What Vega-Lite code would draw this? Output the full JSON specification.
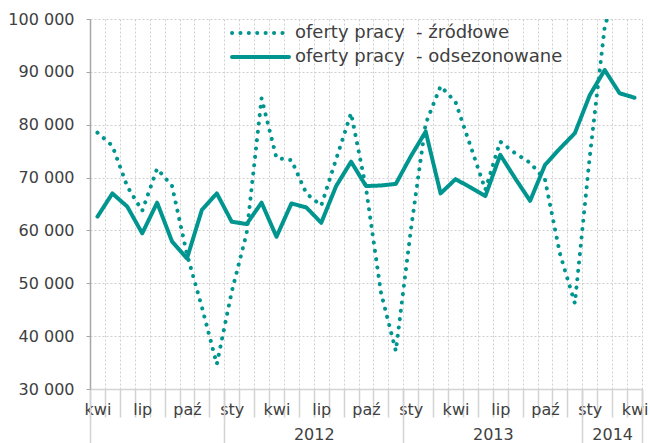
{
  "$schema": "https://vega.github.io/schema/vega-lite/v6.json",
  "width": 552,
  "height": 370,
  "autosize": {"type": "none"},
  "padding": {"left": 90, "top": 19, "right": 8, "bottom": 54},
  "config": {
    "font": "DejaVu Sans",
    "view": {"stroke": null},
    "axis": {"labelFont": "DejaVu Sans", "labelFontSize": 16, "labelColor": "#404040"}
  },
  "datasets": {
    "d": [
      {"m": "2011-04", "s": "oferty pracy  - źródłowe", "v": 78500},
      {"m": "2011-05", "s": "oferty pracy  - źródłowe", "v": 76000},
      {"m": "2011-06", "s": "oferty pracy  - źródłowe", "v": 68300},
      {"m": "2011-07", "s": "oferty pracy  - źródłowe", "v": 63700},
      {"m": "2011-08", "s": "oferty pracy  - źródłowe", "v": 71700},
      {"m": "2011-09", "s": "oferty pracy  - źródłowe", "v": 68400},
      {"m": "2011-10", "s": "oferty pracy  - źródłowe", "v": 55500},
      {"m": "2011-11", "s": "oferty pracy  - źródłowe", "v": 45500},
      {"m": "2011-12", "s": "oferty pracy  - źródłowe", "v": 34700},
      {"m": "2012-01", "s": "oferty pracy  - źródłowe", "v": 48400},
      {"m": "2012-02", "s": "oferty pracy  - źródłowe", "v": 59500},
      {"m": "2012-03", "s": "oferty pracy  - źródłowe", "v": 85000},
      {"m": "2012-04", "s": "oferty pracy  - źródłowe", "v": 73700},
      {"m": "2012-05", "s": "oferty pracy  - źródłowe", "v": 73300},
      {"m": "2012-06", "s": "oferty pracy  - źródłowe", "v": 67000},
      {"m": "2012-07", "s": "oferty pracy  - źródłowe", "v": 64700},
      {"m": "2012-08", "s": "oferty pracy  - źródłowe", "v": 73500},
      {"m": "2012-09", "s": "oferty pracy  - źródłowe", "v": 82200},
      {"m": "2012-10", "s": "oferty pracy  - źródłowe", "v": 68000},
      {"m": "2012-11", "s": "oferty pracy  - źródłowe", "v": 48300},
      {"m": "2012-12", "s": "oferty pracy  - źródłowe", "v": 37200},
      {"m": "2013-01", "s": "oferty pracy  - źródłowe", "v": 60000},
      {"m": "2013-02", "s": "oferty pracy  - źródłowe", "v": 80200},
      {"m": "2013-03", "s": "oferty pracy  - źródłowe", "v": 87300},
      {"m": "2013-04", "s": "oferty pracy  - źródłowe", "v": 84300},
      {"m": "2013-05", "s": "oferty pracy  - źródłowe", "v": 76000},
      {"m": "2013-06", "s": "oferty pracy  - źródłowe", "v": 67700},
      {"m": "2013-07", "s": "oferty pracy  - źródłowe", "v": 76800},
      {"m": "2013-08", "s": "oferty pracy  - źródłowe", "v": 74600},
      {"m": "2013-09", "s": "oferty pracy  - źródłowe", "v": 72800},
      {"m": "2013-10", "s": "oferty pracy  - źródłowe", "v": 69600},
      {"m": "2013-11", "s": "oferty pracy  - źródłowe", "v": 55600},
      {"m": "2013-12", "s": "oferty pracy  - źródłowe", "v": 46200},
      {"m": "2014-01", "s": "oferty pracy  - źródłowe", "v": 74000},
      {"m": "2014-02", "s": "oferty pracy  - źródłowe", "v": 98500},
      {"m": "2014-03", "s": "oferty pracy  - źródłowe", "v": 108000},
      {"m": "2014-04", "s": "oferty pracy  - źródłowe", "v": 104000},
      {"m": "2011-04", "s": "oferty pracy  - odsezonowane", "v": 62600},
      {"m": "2011-05", "s": "oferty pracy  - odsezonowane", "v": 67000},
      {"m": "2011-06", "s": "oferty pracy  - odsezonowane", "v": 64500},
      {"m": "2011-07", "s": "oferty pracy  - odsezonowane", "v": 59450},
      {"m": "2011-08", "s": "oferty pracy  - odsezonowane", "v": 65250},
      {"m": "2011-09", "s": "oferty pracy  - odsezonowane", "v": 57900},
      {"m": "2011-10", "s": "oferty pracy  - odsezonowane", "v": 54700},
      {"m": "2011-11", "s": "oferty pracy  - odsezonowane", "v": 63900},
      {"m": "2011-12", "s": "oferty pracy  - odsezonowane", "v": 67000},
      {"m": "2012-01", "s": "oferty pracy  - odsezonowane", "v": 61650},
      {"m": "2012-02", "s": "oferty pracy  - odsezonowane", "v": 61200},
      {"m": "2012-03", "s": "oferty pracy  - odsezonowane", "v": 65250},
      {"m": "2012-04", "s": "oferty pracy  - odsezonowane", "v": 58800},
      {"m": "2012-05", "s": "oferty pracy  - odsezonowane", "v": 65100},
      {"m": "2012-06", "s": "oferty pracy  - odsezonowane", "v": 64350},
      {"m": "2012-07", "s": "oferty pracy  - odsezonowane", "v": 61450},
      {"m": "2012-08", "s": "oferty pracy  - odsezonowane", "v": 68400},
      {"m": "2012-09", "s": "oferty pracy  - odsezonowane", "v": 73000},
      {"m": "2012-10", "s": "oferty pracy  - odsezonowane", "v": 68400},
      {"m": "2012-11", "s": "oferty pracy  - odsezonowane", "v": 68500},
      {"m": "2012-12", "s": "oferty pracy  - odsezonowane", "v": 68800},
      {"m": "2013-01", "s": "oferty pracy  - odsezonowane", "v": 74000},
      {"m": "2013-02", "s": "oferty pracy  - odsezonowane", "v": 78700},
      {"m": "2013-03", "s": "oferty pracy  - odsezonowane", "v": 67000},
      {"m": "2013-04", "s": "oferty pracy  - odsezonowane", "v": 69700},
      {"m": "2013-05", "s": "oferty pracy  - odsezonowane", "v": 68150},
      {"m": "2013-06", "s": "oferty pracy  - odsezonowane", "v": 66500},
      {"m": "2013-07", "s": "oferty pracy  - odsezonowane", "v": 74300},
      {"m": "2013-08", "s": "oferty pracy  - odsezonowane", "v": 69850},
      {"m": "2013-09", "s": "oferty pracy  - odsezonowane", "v": 65600},
      {"m": "2013-10", "s": "oferty pracy  - odsezonowane", "v": 72400},
      {"m": "2013-11", "s": "oferty pracy  - odsezonowane", "v": 75500},
      {"m": "2013-12", "s": "oferty pracy  - odsezonowane", "v": 78400},
      {"m": "2014-01", "s": "oferty pracy  - odsezonowane", "v": 85600},
      {"m": "2014-02", "s": "oferty pracy  - odsezonowane", "v": 90350},
      {"m": "2014-03", "s": "oferty pracy  - odsezonowane", "v": 85950},
      {"m": "2014-04", "s": "oferty pracy  - odsezonowane", "v": 85100}
    ]
  },
  "data": {"name": "d"},
  "layer": [
    {
      "mark": {"type": "line", "strokeWidth": 4, "strokeCap": "round", "strokeJoin": "round", "clip": true},
      "encoding": {
        "x": {
          "field": "m", "type": "ordinal", "bandPosition": 0.5,
          "scale": {"type": "band", "paddingInner": 0, "paddingOuter": 0},
          "axis": {
            "orient": "bottom", "title": null, "tickBand": "extent", "tickSize": 28,
            "tickColor": "#d3d3d3", "tickWidth": 1.5, "domainColor": "#d3d3d3", "domainWidth": 1.5,
            "grid": true, "gridColor": "#cfcfcf", "gridDash": [2, 2], "gridWidth": 1,
            "labelExpr": "substring(datum.value,5,7)=='01'?'sty':substring(datum.value,5,7)=='04'?'kwi':substring(datum.value,5,7)=='07'?'lip':substring(datum.value,5,7)=='10'?'paź':''",
            "labelBaseline": "alphabetic", "labelPadding": -3, "labelAngle": 0, "labelOverlap": false, "labelFlush": false
          }
        },
        "y": {
          "field": "v", "type": "quantitative",
          "scale": {"domain": [30000, 100000], "nice": false, "zero": false},
          "axis": {
            "title": null, "values": [30000, 40000, 50000, 60000, 70000, 80000, 90000, 100000],
            "tickSize": 4, "tickColor": "#a6a6a6", "domainColor": "#a6a6a6", "domainWidth": 1.5,
            "grid": true, "gridColor": "#cfcfcf", "gridDash": [2, 2], "gridWidth": 1,
            "labelPadding": 12,
            "labelExpr": "replace(format(datum.value, ','), ',', ' ')"
          }
        },
        "color": {
          "field": "s", "type": "nominal",
          "scale": {"domain": ["oferty pracy  - źródłowe", "oferty pracy  - odsezonowane"], "range": ["#00958f", "#00958f"]},
          "legend": {
            "title": null, "orient": "none", "legendX": 140, "legendY": 4,
            "symbolType": "stroke", "symbolSize": 3249, "symbolStrokeWidth": 4,
            "labelFontSize": 18, "labelColor": "#404040", "labelFont": "DejaVu Sans", "labelOffset": 4, "labelLimit": 400,
            "labelExpr": "replace(datum.label, '  ', '\u00a0 ')",
            "clipHeight": 20, "rowPadding": 4, "padding": 0,
            "encode": {"symbols": {"update": {"strokeCap": {"value": "round"}}}}
          }
        },
        "strokeDash": {
          "field": "s", "type": "nominal",
          "scale": {"domain": ["oferty pracy  - źródłowe", "oferty pracy  - odsezonowane"], "range": [[0.1, 8.3], [1, 0]]},
          "legend": {
            "title": null, "orient": "none", "legendX": 140, "legendY": 4,
            "symbolType": "stroke", "symbolSize": 3249, "symbolStrokeWidth": 4,
            "labelFontSize": 18, "labelColor": "#404040", "labelFont": "DejaVu Sans", "labelOffset": 4, "labelLimit": 400,
            "labelExpr": "replace(datum.label, '  ', '\u00a0 ')",
            "clipHeight": 20, "rowPadding": 4, "padding": 0,
            "encode": {"symbols": {"update": {"strokeCap": {"value": "round"}}}}
          }
        }
      }
    },
    {
      "mark": {"type": "point", "opacity": 0},
      "encoding": {
        "x": {
          "field": "m", "type": "ordinal",
          "axis": {
            "orient": "bottom", "title": null, "tickBand": "extent", "tickSize": 54,
            "tickColor": "#d3d3d3", "tickWidth": 1.5,
            "tickOpacity": {"condition": {"test": "datum.extra || substring(datum.value,5,7)=='12' || datum.value=='2014-04'", "value": 1}, "value": 0},
            "domain": false, "grid": false,
            "labelExpr": "datum.value=='2012-07'?'2012':datum.value=='2013-07'?'2013':datum.value=='2014-03'?'2014':''",
            "labelOffset": -7.46, "labelBaseline": "alphabetic", "labelPadding": -4, "labelAngle": 0, "labelOverlap": false, "labelFlush": false
          }
        }
      }
    }
  ],
  "resolve": {"axis": {"x": "independent"}}
}
